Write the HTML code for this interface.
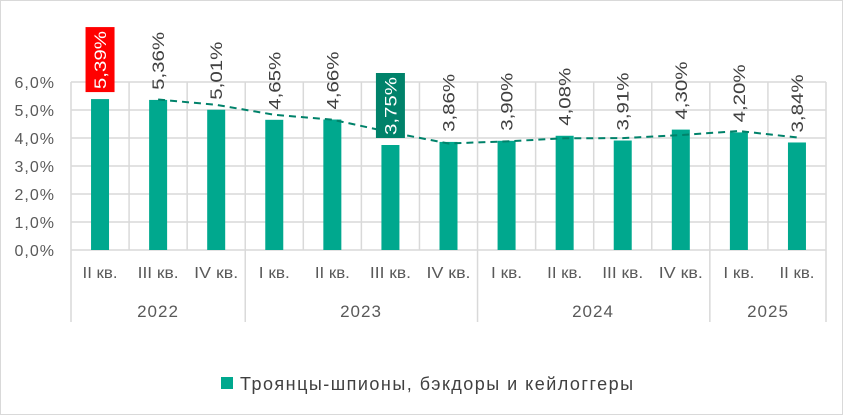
<!DOCTYPE html>
<html><head><meta charset="utf-8"><style>
html,body{margin:0;padding:0;background:#fff}
svg{display:block;font-family:"Liberation Sans",sans-serif}
</style></head><body>
<svg width="846" height="416" viewBox="0 0 846 416">
<rect x="0.5" y="0.5" width="842" height="414" fill="#fff" stroke="#d9d9d9"/>
<g stroke="#d9d9d9" stroke-width="1.5">
<line x1="71" y1="82" x2="826" y2="82"/><line x1="71" y1="110" x2="826" y2="110"/>
<line x1="71" y1="138" x2="826" y2="138"/><line x1="71" y1="166" x2="826" y2="166"/>
<line x1="71" y1="194" x2="826" y2="194"/><line x1="71" y1="222" x2="826" y2="222"/>
<line x1="71" y1="250" x2="826" y2="250"/>
</g>
<g id="v" stroke="#d9d9d9" stroke-width="1.5"></g>
<g id="bars" fill="#00a88e"></g>
<polyline id="trend" fill="none" stroke="#00826a" stroke-width="2" stroke-dasharray="7,5"/>
<g id="lbl" font-size="17" fill="#404040"></g>
<g font-size="16" fill="#595959" text-anchor="end" letter-spacing="1">
<text x="55" y="88">6,0%</text><text x="55" y="116">5,0%</text><text x="55" y="144">4,0%</text>
<text x="55" y="172">3,0%</text><text x="55" y="200">2,0%</text><text x="55" y="228">1,0%</text><text x="55" y="256">0,0%</text>
</g>
<g id="cats" font-size="16" fill="#595959" text-anchor="middle"></g>
<g font-size="17" fill="#595959" text-anchor="middle" letter-spacing="1">
<text x="158" y="317">2022</text><text x="361" y="317">2023</text><text x="593" y="317">2024</text><text x="768" y="317">2025</text>
</g>
<rect x="221" y="377" width="12" height="12" fill="#00a88e"/>
<text x="240" y="390" font-size="18" fill="#404040" textLength="393" lengthAdjust="spacing">Троянцы-шпионы, бэкдоры и кейлоггеры</text>
</svg>
<script>
var ns="http://www.w3.org/2000/svg",x0=71,w=755/13;
var vals=[5.39,5.36,5.01,4.65,4.66,3.75,3.86,3.90,4.08,3.91,4.30,4.20,3.84];
var cats=["II кв.","III кв.","IV кв.","I кв.","II кв.","III кв.","IV кв.","I кв.","II кв.","III кв.","IV кв.","I кв.","II кв."];
var cw={"I кв.":31,"II кв.":35,"III кв.":41,"IV кв.":44};
function el(t,a,p){var e=document.createElementNS(ns,t);for(var k in a)e.setAttribute(k,a[k]);document.getElementById(p).appendChild(e);return e;}
for(var k=0;k<=13;k++){var x=x0+w*k;var yr=[0,3,7,11,13].indexOf(k)>=0;el("line",{x1:x,y1:82,x2:x,y2:yr?322:250},"v");}
var pts=[];
vals.forEach(function(v,i){var cx=x0+w*(i+0.5),top=250-v*28;
el("rect",{x:cx-9,y:top,width:18,height:250-top},"bars");
if(i>0){var m=(v+vals[i-1])/2;pts.push(cx+","+(250-m*28));}
var s=v.toFixed(2).replace(".",",")+"%";var by=top-10;
if(i==0||i==5){el("rect",{x:cx-14.5,y:top-72,width:29,height:65,fill:i==0?"#ff0000":"#00826a"},"lbl");}
var t=el("text",{x:0,y:0,transform:"translate("+(cx+6)+","+by+") rotate(-90)",fill:(i==0||i==5)?"#fff":"#404040",textLength:"58",lengthAdjust:"spacingAndGlyphs"},"lbl");t.textContent=s;
var c=el("text",{x:cx,y:278,textLength:cw[cats[i]],lengthAdjust:"spacingAndGlyphs"},"cats");c.textContent=cats[i];});
document.getElementById("trend").setAttribute("points",pts.join(" "));
</script>
</body></html>
